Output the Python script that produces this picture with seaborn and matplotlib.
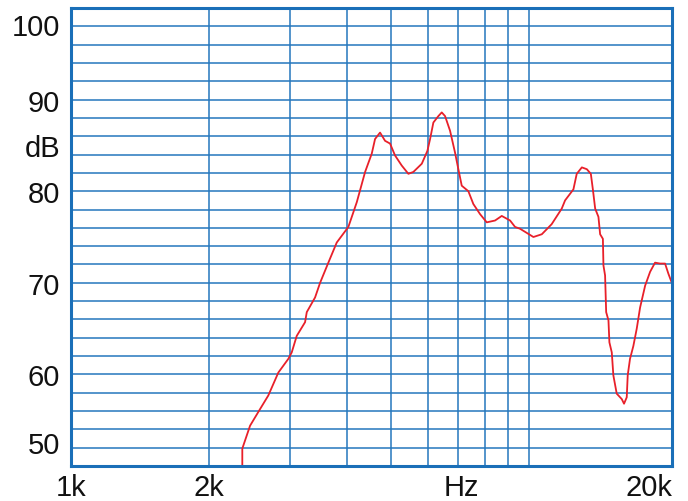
import numpy as np
import pandas as pd
import seaborn as sns
import matplotlib.pyplot as plt
from matplotlib.ticker import FixedLocator, NullFormatter
import matplotlib.transforms as mtransforms

# Frequency response (Hz, dB)
freq_hz = [2364, 2364, 2458, 2562, 2694, 2833, 2979, 3030, 3107, 3240, 3268, 3407,
           3494, 3642, 3799, 4027, 4201, 4380, 4529, 4605, 4722, 4842, 4965, 5091,
           5265, 5443, 5581, 5823, 5989, 6071, 6172, 6329, 6437, 6545, 6711, 6882,
           6997, 7117, 7357, 7544, 7802, 8069, 8413, 8701, 9072, 9302, 9539, 10200,
           10640, 11180, 11760, 11960, 12470, 12680, 13010, 13340, 13610, 13750,
           13910, 14140, 14260, 14460, 14500, 14620, 14700, 14870, 14940, 15120,
           15240, 15500, 15900, 16080, 16300, 16380, 16570, 16850, 17140, 17430,
           17880, 18330, 18790, 19270, 19760, 20090, 20440]
level_db = [50.0, 51.9, 54.4, 55.9, 57.7, 60.2, 61.7, 62.4, 64.2, 65.7, 66.8, 68.4,
            70.0, 72.2, 74.4, 76.1, 78.8, 82.1, 84.1, 85.7, 86.4, 85.5, 85.2, 83.9,
            82.8, 81.9, 82.1, 83.0, 84.4, 85.7, 87.5, 88.2, 88.6, 88.2, 86.6, 84.2,
            82.4, 80.6, 80.0, 78.6, 77.5, 76.6, 76.8, 77.3, 76.8, 76.1, 75.9, 75.0,
            75.3, 76.4, 78.1, 79.0, 80.2, 81.9, 82.6, 82.4, 81.9, 80.2,
            78.1, 77.2, 75.3, 74.8, 71.9, 70.8, 66.8, 65.9, 63.5, 62.4,
            59.9, 57.9, 57.3, 56.8, 57.5, 59.9, 61.7, 63.1, 65.0, 67.3,
            69.7, 71.2, 72.2, 72.1, 72.1, 71.0, 70.0]

y_ticks = [50, 60, 70, 80, 85, 90, 100]
y_labels = ['50', '60', '70', '80', 'dB', '90', '100']
x_ticks = [1000, 2000, 7100, 20000]
x_labels = ['1k', '2k', 'Hz', '20k']
x_grid = [2000, 3000, 4000, 5000, 6000, 7000, 8000, 9000, 10000]
y_grid = list(range(50, 101, 2))

sns.set_style('white')
plt.rcParams['font.family'] = ['Liberation Sans', 'DejaVu Sans']

grid_col = '#2577bd'
df = pd.DataFrame({'f': freq_hz, 'db': level_db})

fig = plt.figure(figsize=(6.88, 5.02), dpi=100)
ax = fig.add_axes([71 / 688, 35 / 502, 601 / 688, 458 / 502])
ax.set_xscale('log')
ax.set_xlim(1000, 20460)
ax.set_ylim(50, 100)

# grid lines as minor ticks
ax.xaxis.remove_overlapping_locs = False
ax.yaxis.remove_overlapping_locs = False
ax.xaxis.set_minor_locator(FixedLocator(x_grid))
ax.yaxis.set_minor_locator(FixedLocator(y_grid))
ax.xaxis.set_minor_formatter(NullFormatter())
ax.yaxis.set_minor_formatter(NullFormatter())
ax.grid(False, which='major')
ax.grid(True, which='minor', color=grid_col, linewidth=1.1)

sns.lineplot(data=df, x='f', y='db', ax=ax, color='#e8202a', linewidth=1.3,
             sort=False, estimator=None)

ax.set_xticks(x_ticks)
ax.set_xticklabels(x_labels)
ax.set_yticks(y_ticks)
ax.set_yticklabels(y_labels)
ax.tick_params(which='both', length=0, labelsize=21, colors='#111111')
ax.tick_params(axis='x', pad=5)
ax.tick_params(axis='y', pad=8)
ax.set_xlabel('')
ax.set_ylabel('')

yl = ax.get_yticklabels()
yl[0].set_va('bottom')
yl[0].set_transform(yl[0].get_transform() + mtransforms.ScaledTranslation(0, 0.07, fig.dpi_scale_trans))
yl[-1].set_va('top')
yl[-1].set_transform(yl[-1].get_transform() + mtransforms.ScaledTranslation(0, -0.05, fig.dpi_scale_trans))
xl = ax.get_xticklabels()
xl[-1].set_ha('right')
xl[-1].set_transform(xl[-1].get_transform() + mtransforms.ScaledTranslation(0.05, 0, fig.dpi_scale_trans))

for s in ax.spines.values():
    s.set_color('#1a6fb8')
    s.set_linewidth(2.2)

fig.savefig('out.png', dpi=100)
